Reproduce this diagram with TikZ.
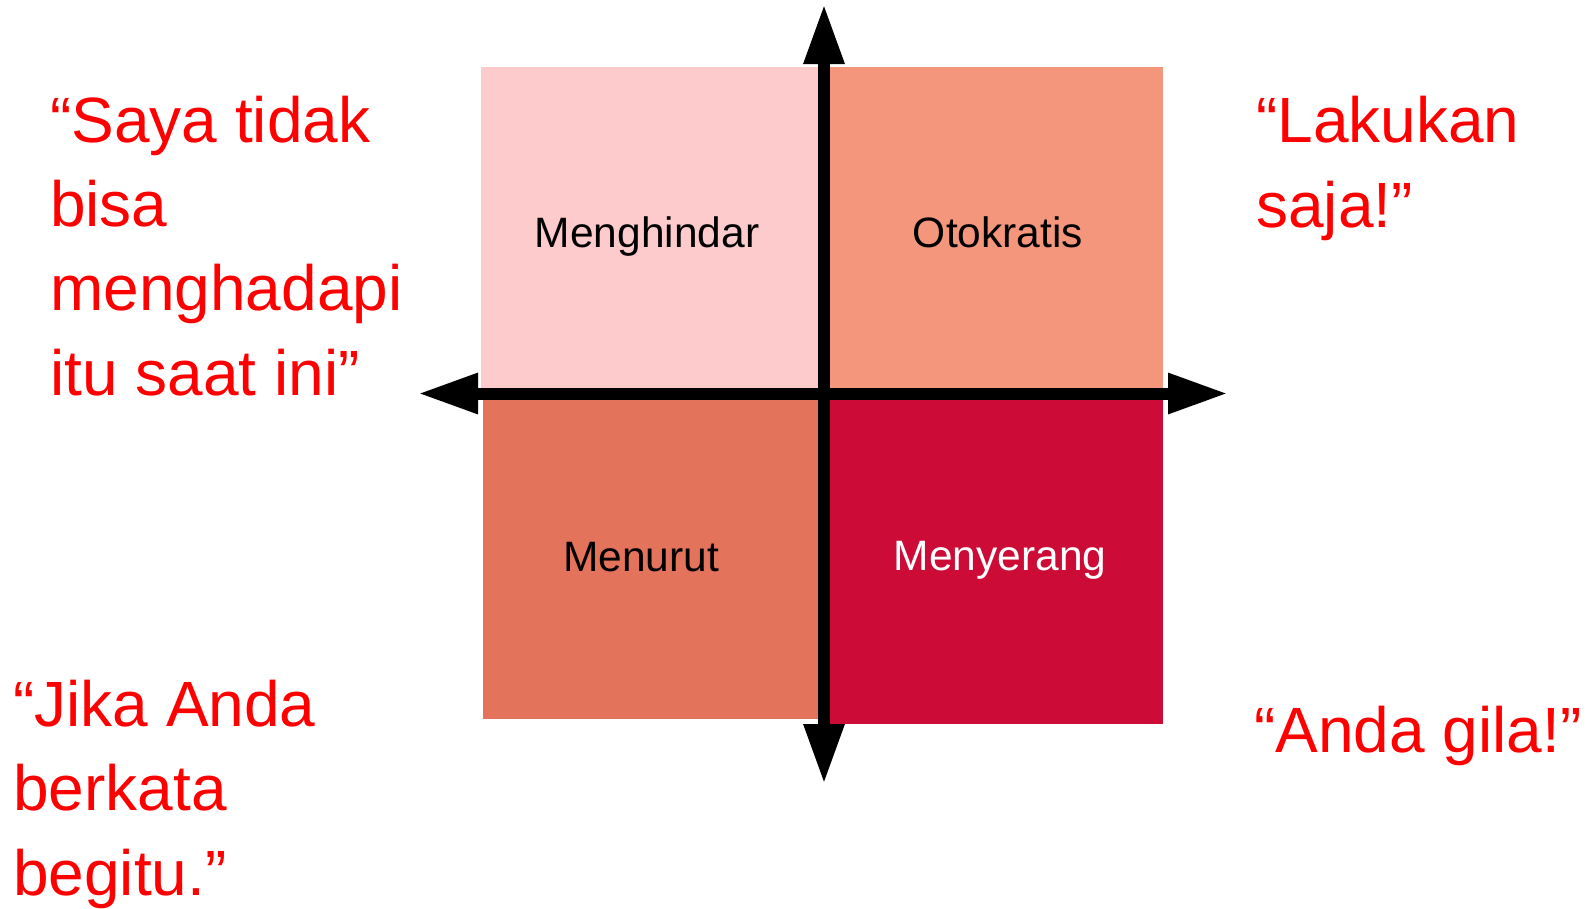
\documentclass[tikz,border=0pt]{standalone}
\usepackage{fontspec}
\setmainfont{Liberation Sans}
\usetikzlibrary{arrows.meta}
\definecolor{qpink}{RGB}{253,203,203}
\definecolor{qsalmon}{RGB}{243,150,124}
\definecolor{qcoral}{RGB}{228,115,92}
\definecolor{qcrimson}{RGB}{204,12,55}
\definecolor{qred}{RGB}{255,0,0}
\tikzset{
  qlabel/.style={inner sep=0pt, anchor=base, font={\fontsize{42.5}{50}\selectfont}},
  quote/.style={inner sep=0pt, anchor=base west, align=left, text=qred,
     font={\fontsize{64}{84.3}\selectfont}},
  axis/.style={line width=12pt, {Triangle[length=60pt,width=38pt]}-{Triangle[length=60pt,width=38pt]}}
}
\begin{document}
\begin{tikzpicture}[x=1pt,y=-1pt]
\useasboundingbox (0,0) rectangle (1588,908);
% quadrants
\fill[qpink] (481,67) rectangle (824,394);
\fill[qsalmon] (824,67) rectangle (1163,394);
\fill[qcoral] (483,394) rectangle (824,719);
\fill[qcrimson] (824,394) rectangle (1163,724);
% labels
\node[qlabel] (mh) at (647,247) {Menghindar};
\node[qlabel] (ot) at (998,247) {Otokratis};
\node[qlabel] (mr) at (641,571) {Menurut};
\node[qlabel, text=white] (ms) at (1000,570) {Menyerang};
% axes
\coordinate (top) at (824,4);
\coordinate (bot) at (824,784);
\coordinate (lft) at (418,393.5);
\coordinate (rgt) at (1228,393.5);
\draw[axis] (lft) -- (rgt);
\draw[axis] (bot) -- (top);
% quotes (anchored at the baseline of the last line)
\node[quote] (q1) at (50,395) {“Saya tidak\\bisa\\menghadapi\\itu saat ini”};
\node[quote] (q2) at (1256,227) {“Lakukan\\saja!”};
\node[quote] (q3) at (13,895) {“Jika Anda\\berkata\\begitu.”};
\node[quote] (q4) at (1254,752) {“Anda gila!”};
\end{tikzpicture}
\end{document}
